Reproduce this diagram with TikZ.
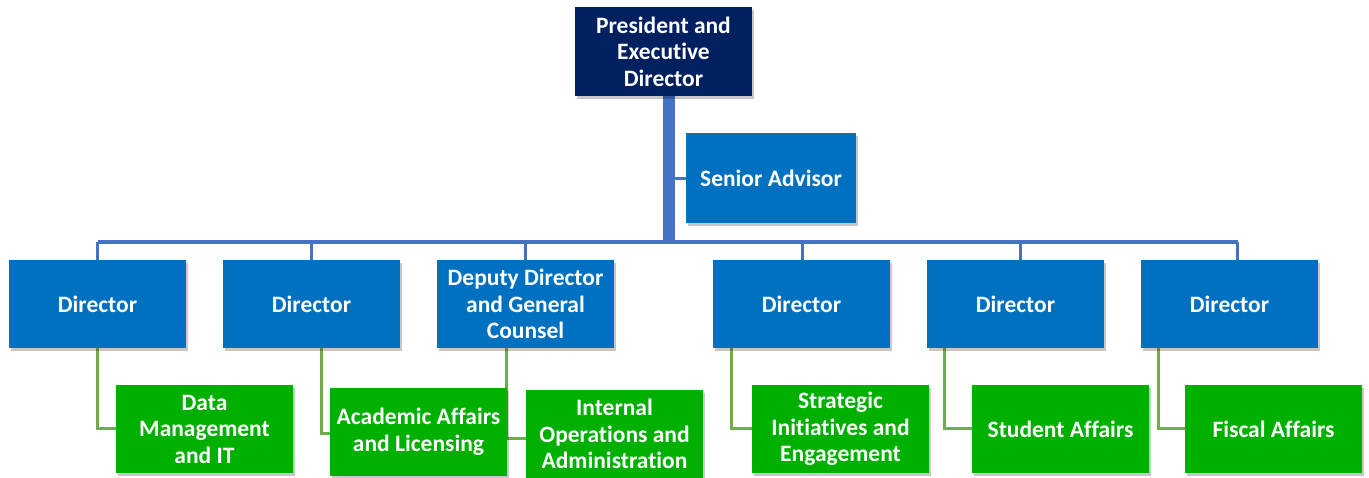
\documentclass[tikz,border=0pt]{standalone}
\usepackage{fontspec}
\setmainfont{Carlito}[Ligatures=NoCommon]
\usetikzlibrary{shadows,backgrounds,calc}
\definecolor{navy}{HTML}{002060}
\definecolor{boxblue}{HTML}{0070C0}
\definecolor{boxgreen}{HTML}{00B000}
\definecolor{lineblue}{HTML}{4472C4}
\definecolor{linegreen}{HTML}{70AD47}
\tikzset{
  box/.style={rectangle, inner sep=0pt, minimum width=177pt, minimum height=88pt,
    align=center, text=white, font=\bfseries\fontsize{23.5}{26.5}\selectfont,
    drop shadow={shadow xshift=2pt, shadow yshift=-3pt, opacity=0.22, fill=black}},
  topbox/.style={box, fill=navy, minimum height=89pt},
  bluebox/.style={box, fill=boxblue},
  greenbox/.style={box, fill=boxgreen},
  bline/.style={draw=lineblue, line width=3pt},
  gline/.style={draw=linegreen, line width=3pt},
}
\begin{document}
\begin{tikzpicture}[x=1pt,y=-1pt]
\useasboundingbox (0,0) rectangle (1369,477);
% nodes
\node[topbox] (top) at (663.5,51.5) {President and\\Executive\\Director};
\node[bluebox, minimum width=170pt, minimum height=90pt] (sa) at (771,178) {Senior Advisor};
\node[bluebox] (d1) at (97.5,304) {Director};
\node[bluebox] (d2) at (311.5,304) {Director};
\node[bluebox] (dep) at (525.5,304) {Deputy Director\\and General\\Counsel};
\node[bluebox] (d4) at (801.5,304) {Director};
\node[bluebox] (d5) at (1015.5,304) {Director};
\node[bluebox] (d6) at (1229.5,304) {Director};
\node[greenbox] (g1) at (204.5,429) {Data\\Management\\and IT};
\node[greenbox] (g2) at (418.5,431.5) {Academic Affairs\\and Licensing};
\node[greenbox] (g3) at (614.5,434) {Internal\\Operations and\\Administration};
\node[greenbox] (g4) at (840.5,429) {Strategic\\Initiatives and\\Engagement};
\node[greenbox] (g5) at (1060.5,429) {Student Affairs};
\node[greenbox] (g6) at (1273.5,429) {Fiscal Affairs};
\coordinate (bus) at (668,242);
% connectors
\begin{pgfonlayer}{background}
\draw[draw=lineblue, line width=12pt] ([xshift=5pt]top.south) -- ([xshift=5pt]top.south |- bus);
\draw[bline] (sa.west) -- (sa.west -| bus);
\draw[draw=lineblue, line width=4pt] (d1.north |- bus) -- ([xshift=8pt]d6.north |- bus);
\draw[bline] (d1.north) -- (d1.north |- bus);
\draw[bline] (d2.north) -- (d2.north |- bus);
\draw[bline] (dep.north) -- (dep.north |- bus);
\draw[bline] ([xshift=0.5pt]d4.north) -- ([xshift=0.5pt]d4.north |- bus);
\draw[bline] ([xshift=4.5pt]d5.north) -- ([xshift=4.5pt]d5.north |- bus);
\draw[bline] ([xshift=7.5pt]d6.north) -- ([xshift=7.5pt]d6.north |- bus);
\draw[gline] (d1.south) |- ([yshift=1pt]g1.west);
\draw[gline] ([xshift=9.5pt]d2.south) |- ([yshift=-1.5pt]g2.west);
\draw[gline] ([xshift=-19.5pt]dep.south) |- ([yshift=-4pt]g3.west);
\draw[gline] ([xshift=19pt]d4.south west) |- ([yshift=1pt]g4.west);
\draw[gline] ([xshift=18pt]d5.south west) |- ([yshift=1pt]g5.west);
\draw[gline] ([xshift=18pt]d6.south west) |- ([yshift=1pt]g6.west);
\end{pgfonlayer}
\end{tikzpicture}
\end{document}
